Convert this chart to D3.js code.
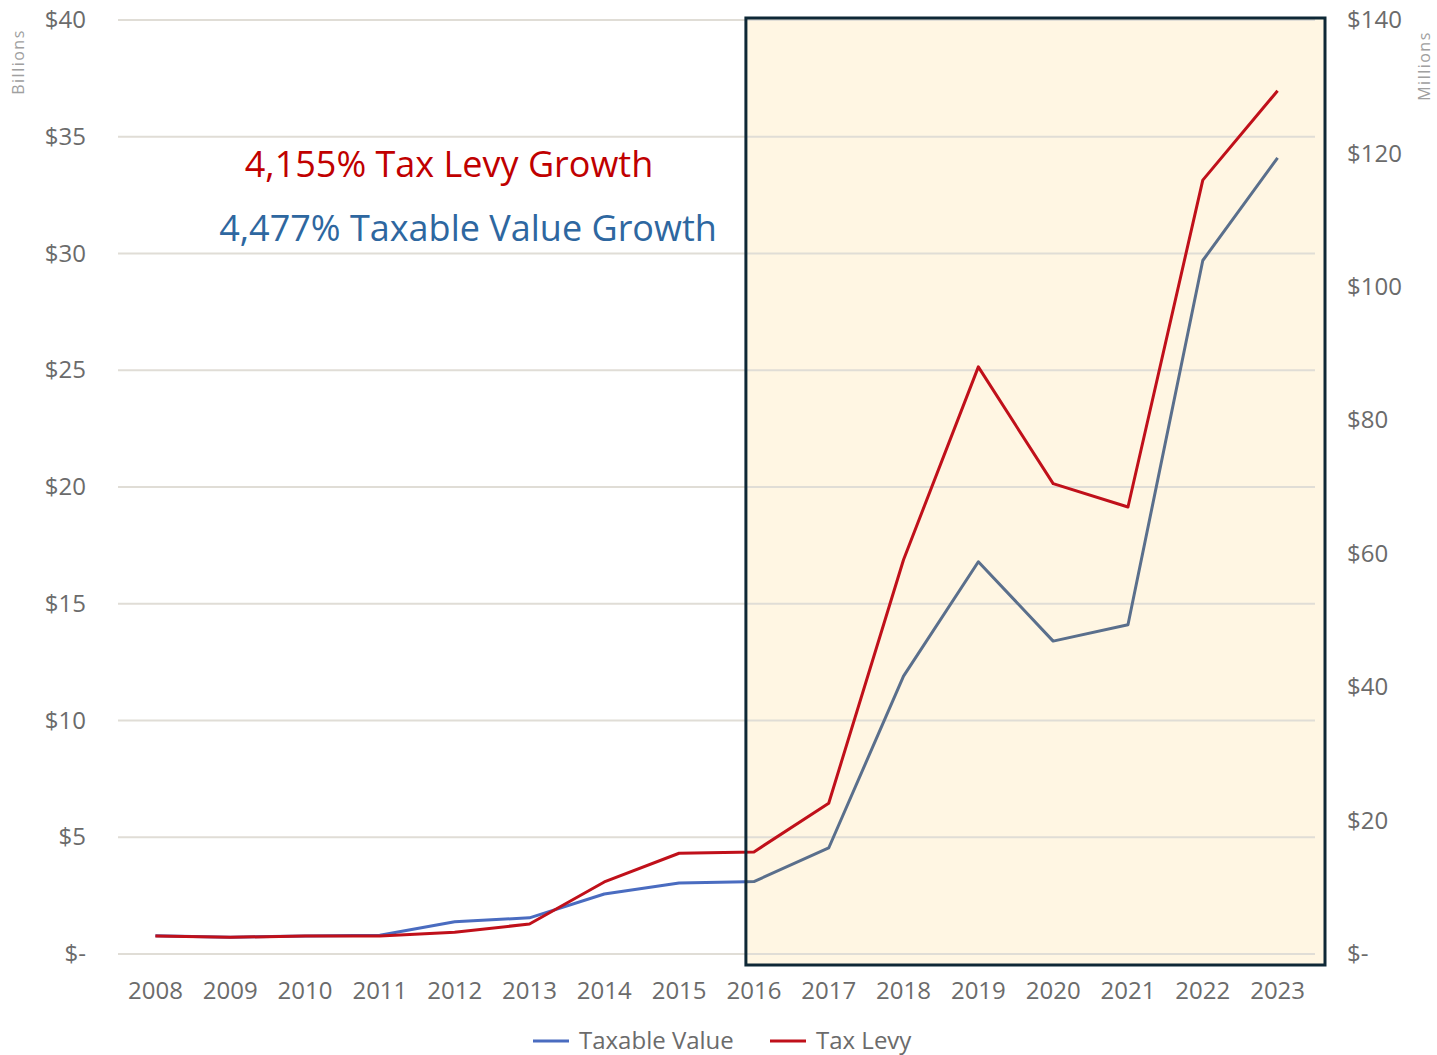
<!DOCTYPE html>
<html>
<head>
<meta charset="utf-8">
<script src="https://cdn.jsdelivr.net/npm/d3@7"></script>
<style>
  html, body { margin: 0; padding: 0; background: #ffffff; }
  svg { display: block; }
</style>
</head>
<body>
<svg id="chart" width="1437" height="1055"></svg>
<script>
// Years on the category axis
const years = ["2008","2009","2010","2011","2012","2013","2014","2015",
               "2016","2017","2018","2019","2020","2021","2022","2023"];
// Taxable value, billions of dollars (left axis)
const taxableValue = [0.78, 0.72, 0.77, 0.80, 1.38, 1.55, 2.57, 3.04,
                      3.10, 4.54, 11.9, 16.8, 13.4, 14.1, 29.7, 34.1];
// Tax levy, millions of dollars (right axis)
const taxLevy = [2.7, 2.5, 2.7, 2.7, 3.25, 4.5, 10.8, 15.1,
                 15.3, 22.6, 59.1, 88.0, 70.5, 67.0, 116.0, 129.4];
// Tick values and labels
const leftTicks = [0, 5, 10, 15, 20, 25, 30, 35, 40];
const rightTicks = [0, 20, 40, 60, 80, 100, 120, 140];
// Series names for the legend
const seriesNames = ["Taxable Value", "Tax Levy"];
// Growth annotations
const annotations = ["4,155% Tax Levy Growth", "4,477% Taxable Value Growth"];
// Start of the highlighted period
const highlightStart = "2016";

const svg = d3.select("#chart");
const W = 1437, H = 1055;
const plot = { left: 118, right: 1315, top: 20, bottom: 954 };

const x = d3.scaleBand().domain(years).range([plot.left, plot.right]);
const xc = d => x(d) + x.bandwidth() / 2;
const yL = d3.scaleLinear().domain([0, 40]).range([plot.bottom, plot.top]);
const yR = d3.scaleLinear().domain([0, 140]).range([plot.bottom, plot.top]);

const labelFont = "'Open Sans', 'DejaVu Sans', sans-serif";
const grey = "#6b6b6b";
const blue = "#4a6cc0";
const blueInBox = "#5a6f8c";
const red = "#c0101a";

// Highlight box geometry, derived from the scales
const boxLeft = xc(highlightStart) - 8;
const boxRight = plot.right + 10;
const boxTop = yL(40) - 2;
const boxBottom = yL(0) + 11;

// Cream background of the highlighted period
svg.append("rect")
  .attr("x", boxLeft).attr("y", boxTop)
  .attr("width", boxRight - boxLeft).attr("height", boxBottom - boxTop)
  .attr("fill", "#fff6e3");

// Horizontal gridlines
svg.append("g")
  .selectAll("line")
  .data(leftTicks)
  .join("line")
  .attr("x1", plot.left).attr("x2", plot.right)
  .attr("y1", d => yL(d)).attr("y2", d => yL(d))
  .attr("stroke", "#e0ddd6").attr("stroke-width", 2);

// Left axis
const leftAxis = d3.axisLeft(yL).tickValues(leftTicks)
  .tickFormat(d => d === 0 ? "$-" : "$" + d).tickSize(0).tickPadding(0);
svg.append("g").attr("transform", `translate(${plot.left - 32},0)`)
  .call(leftAxis)
  .call(g => g.select(".domain").remove())
  .call(g => g.selectAll("text").attr("font-family", labelFont)
    .attr("font-size", 24).attr("fill", grey));

// Right axis
const rightAxis = d3.axisRight(yR).tickValues(rightTicks)
  .tickFormat(d => d === 0 ? "$-" : "$" + d).tickSize(0).tickPadding(0);
svg.append("g").attr("transform", `translate(${plot.right + 32},0)`)
  .call(rightAxis)
  .call(g => g.select(".domain").remove())
  .call(g => g.selectAll("text").attr("font-family", labelFont)
    .attr("font-size", 24).attr("fill", grey));

// Bottom axis
const bottomAxis = d3.axisBottom(x).tickSize(0).tickPadding(0);
svg.append("g").attr("transform", `translate(0,${plot.bottom + 28})`)
  .call(bottomAxis)
  .call(g => g.select(".domain").remove())
  .call(g => g.selectAll("text").attr("font-family", labelFont)
    .attr("font-size", 24).attr("fill", grey));

// Axis titles
svg.append("text")
  .attr("transform", `translate(24,62) rotate(-90)`)
  .attr("text-anchor", "middle")
  .attr("font-family", labelFont).attr("font-size", 16).attr("fill", "#a0a0a0")
  .attr("letter-spacing", 1.5)
  .text("Billions");
svg.append("text")
  .attr("transform", `translate(1430,66) rotate(-90)`)
  .attr("text-anchor", "middle")
  .attr("font-family", labelFont).attr("font-size", 16).attr("fill", "#a0a0a0")
  .attr("letter-spacing", 1.5)
  .text("Millions");

// Clip regions: inside and outside the highlight box
const defs = svg.append("defs");
defs.append("clipPath").attr("id", "inBox")
  .append("rect").attr("x", boxLeft).attr("y", 0)
  .attr("width", W - boxLeft).attr("height", H);
defs.append("clipPath").attr("id", "outBox")
  .append("rect").attr("x", 0).attr("y", 0)
  .attr("width", boxLeft).attr("height", H);

const blueLine = d3.line().x((d, i) => xc(years[i])).y(d => yL(d));
const redLine = d3.line().x((d, i) => xc(years[i])).y(d => yR(d));

// Taxable value line
svg.append("path").datum(taxableValue)
  .attr("d", blueLine).attr("fill", "none")
  .attr("stroke", blue).attr("stroke-width", 3).attr("stroke-linejoin", "round")
  .attr("clip-path", "url(#outBox)");
svg.append("path").datum(taxableValue)
  .attr("d", blueLine).attr("fill", "none")
  .attr("stroke", blueInBox).attr("stroke-width", 3).attr("stroke-linejoin", "round")
  .attr("clip-path", "url(#inBox)");

// Tax levy line
svg.append("path").datum(taxLevy)
  .attr("d", redLine).attr("fill", "none")
  .attr("stroke", red).attr("stroke-width", 3).attr("stroke-linejoin", "round");

// Highlight box border
svg.append("rect")
  .attr("x", boxLeft).attr("y", boxTop)
  .attr("width", boxRight - boxLeft).attr("height", boxBottom - boxTop)
  .attr("fill", "none").attr("stroke", "#0e2836").attr("stroke-width", 3);

// Growth annotations
svg.append("text")
  .attr("x", 449).attr("y", 177).attr("text-anchor", "middle")
  .attr("font-family", labelFont).attr("font-size", 36).attr("fill", "#c00000")
  .text(annotations[0]);
svg.append("text")
  .attr("x", 468).attr("y", 241).attr("text-anchor", "middle")
  .attr("font-family", labelFont).attr("font-size", 36).attr("fill", "#2e67a0")
  .text(annotations[1]);

// Legend
const legend = svg.append("g");
const legendItems = [
  { name: seriesNames[0], color: blue, x: 533 },
  { name: seriesNames[1], color: red, x: 770 }
];
legendItems.forEach(it => {
  legend.append("line")
    .attr("x1", it.x).attr("x2", it.x + 36)
    .attr("y1", 1041).attr("y2", 1041)
    .attr("stroke", it.color).attr("stroke-width", 3);
  legend.append("text")
    .attr("x", it.x + 46).attr("y", 1041).attr("dy", "0.35em")
    .attr("font-family", labelFont).attr("font-size", 24).attr("fill", grey)
    .text(it.name);
});
</script>
</body>
</html>
